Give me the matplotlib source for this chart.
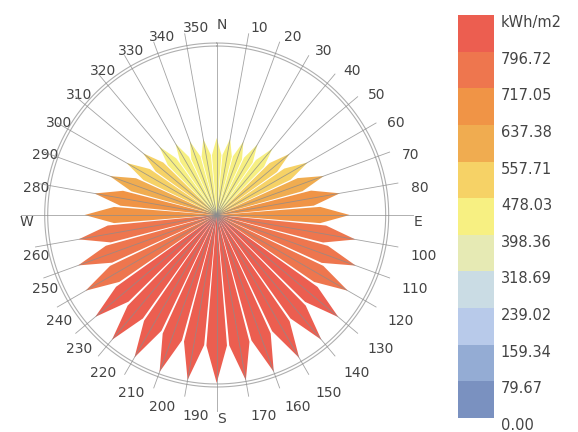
import numpy as np
import matplotlib
matplotlib.use('Agg')
import matplotlib.pyplot as plt

plt.rcParams['font.family'] = ['DejaVu Sans']

# radiation per direction (deg clockwise from north), kWh/m2
DIRECTIONS = list(range(0, 360, 10))
RADIATION = [402, 404, 408, 425, 452, 496, 548, 595, 652, 694,
             735, 772, 790, 829, 850, 861, 871, 876,
             876.39, 874, 871, 858, 850, 827, 790, 769, 732, 689,
             647, 593, 543, 501, 466, 430, 408, 403]

# legend bins
LEGEND_EDGES = [0.00, 79.67, 159.34, 239.02, 318.69, 398.36, 478.03,
                557.71, 637.38, 717.05, 796.72, 876.39]
LEGEND_COLORS = ['#7A91C0', '#94ACD4', '#B8CAEA', '#CADCE4', '#E6EAB4', '#F7F082',
                 '#F6D266', '#F0AC50', '#F09446', '#EE764E', '#EC5E50']
LEGEND_TITLE = 'kWh/m2'

TEXT_COLOR = '#444444'
R_VIEW = 1095.5          # radius of the polar view
RINGS = [881.6, 897.3]   # double outer circle
LINE_R = 960             # radial grid length
CARD_R = 1022            # length of E/S/W lines
LABEL_R = 1028
SHOULDER = 0.78          # where a petal is widest, as part of its length
HALF_W = np.deg2rad(4.5) # half angle of a petal


def bin_color(v):
	''' colour of the legend bin holding v '''
	for i in range(len(LEGEND_COLORS)):
		if v <= LEGEND_EDGES[i + 1]:
			return LEGEND_COLORS[i]
	return LEGEND_COLORS[-1]


fig = plt.figure(figsize=(5.78, 4.32), dpi=100)
ax = fig.add_axes([0.0116, 0.0162, 0.7266, 0.9722], projection='polar')
ax.set_theta_zero_location('N')
ax.set_theta_direction(-1)
ax.set_ylim(0, R_VIEW)
ax.set_axis_off()

# petals
for d, v in zip(DIRECTIONS, RADIATION):
	t = np.deg2rad(d)
	ax.fill([t, t - HALF_W, t, t + HALF_W], [0, v * SHOULDER, v, v * SHOULDER],
	        color=bin_color(v), lw=0, zorder=2)

# outer rings
circle = np.linspace(0, 2 * np.pi, 721)
for r in RINGS:
	ax.plot(circle, np.full_like(circle, r), color='#AFAFAF', lw=0.8, zorder=3)

# radial lines and labels
names = {0: 'N', 90: 'E', 180: 'S', 270: 'W'}
for d in DIRECTIONS:
	t = np.deg2rad(d)
	if d == 0:
		length = RINGS[1]
	elif d in names:
		length = CARD_R
	else:
		length = LINE_R
	ax.plot([t, t], [0, length], color='#8C8C8C', lw=0.6, alpha=0.8, zorder=4)
	ax.text(t, LABEL_R, names.get(d, str(d)), ha='left', va='top',
	        fontsize=10, color=TEXT_COLOR)

# legend
leg = fig.add_axes([0.7919, 0.0324, 0.0628, 0.9329])
step = np.diff(LEGEND_EDGES)
leg.bar(0.5, step, bottom=LEGEND_EDGES[:-1], width=1, color=LEGEND_COLORS, lw=0)
leg.set_xlim(0, 1)
leg.set_ylim(LEGEND_EDGES[0], LEGEND_EDGES[-1])
leg.set_axis_off()
labels = ['%.2f' % e for e in LEGEND_EDGES[:-1]] + [LEGEND_TITLE]
for e, lab in zip(LEGEND_EDGES, labels):
	leg.text(1.19, e, lab, ha='left', va='top', fontsize=10.5, color=TEXT_COLOR,
	         clip_on=False)

fig.savefig('out.png', dpi=100)
